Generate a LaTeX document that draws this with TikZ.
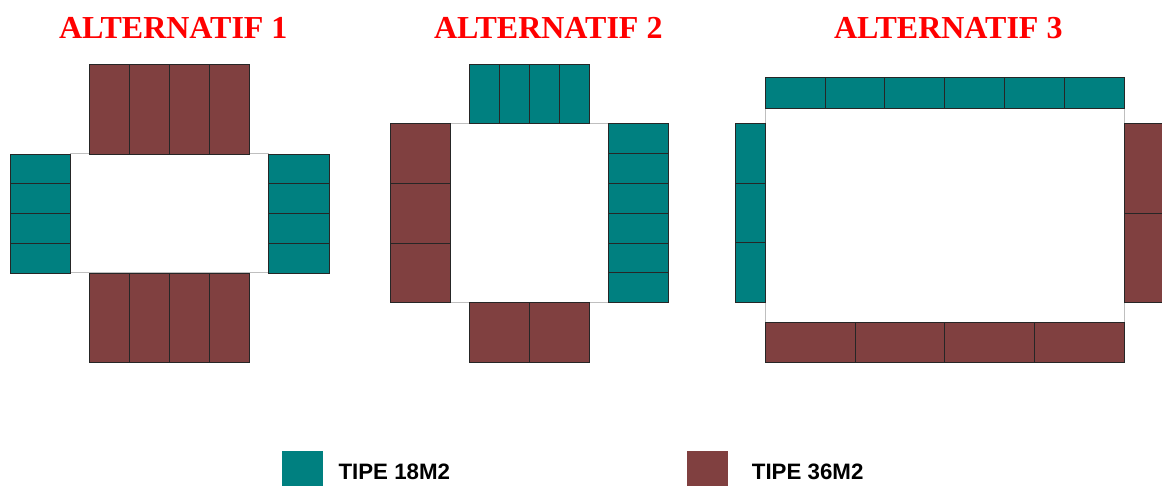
\documentclass[tikz,border=0pt]{standalone}
\usepackage{fontspec}
\setmainfont{Liberation Serif}
\newfontfamily\legendfont{Liberation Sans}
\definecolor{tealc}{RGB}{0,128,128}
\definecolor{brownc}{RGB}{128,64,64}
\definecolor{titlered}{RGB}{255,0,0}
\tikzset{
  small/.style={fill=tealc,draw=black!85,line width=0.8pt},
  big/.style={fill=brownc,draw=black!85,line width=0.8pt},
  hall/.style={fill=white,draw=black!25,line width=1pt},
  title/.style={text=titlered,font=\bfseries\fontsize{32}{36}\selectfont,anchor=base,inner sep=0pt},
  legendtext/.style={font=\legendfont\bfseries\fontsize{22.3}{26}\selectfont,anchor=base west,inner sep=0pt}
}
\newcommand{\cellstrip}[7]{%
  \pgfmathsetmacro{\cdx}{(#4-#2)/#6}%
  \pgfmathsetmacro{\cdy}{(#5-#3)/#7}%
  \foreach \ci in {1,...,#6}{\foreach \cj in {1,...,#7}{%
    \draw[#1] ({#2+(\ci-1)*\cdx},{#3+(\cj-1)*\cdy}) rectangle ({#2+\ci*\cdx},{#3+\cj*\cdy});}}%
}
\begin{document}
\begin{tikzpicture}[x=1pt,y=-1pt]
\useasboundingbox (0,0) rectangle (1162,486);
% titles
\node[title] (t1) at (173.3,39) {ALTERNATIF 1};
\node[title] (t2) at (548.3,39) {ALTERNATIF 2};
\node[title] (t3) at (948.3,39) {ALTERNATIF 3};
% Alternatif 1
\draw[hall] (70,154) rectangle (268.5,273);
\cellstrip{big}{89.5}{64}{249.5}{154}{4}{1}
\cellstrip{big}{89.5}{273}{249.5}{362.5}{4}{1}
\cellstrip{small}{10}{154}{70}{273}{1}{4}
\cellstrip{small}{268.5}{154}{329}{273}{1}{4}
% Alternatif 2
\draw[hall] (450,123.5) rectangle (608.5,302.7);
\cellstrip{small}{469.5}{64}{589.5}{123.5}{4}{1}
\cellstrip{big}{390}{123.5}{450}{302.7}{1}{3}
\cellstrip{small}{608.5}{123.5}{668.5}{302.7}{1}{6}
\cellstrip{big}{469.5}{302.7}{589.5}{362.5}{2}{1}
% Alternatif 3
\draw[hall] (765.3,108) rectangle (1124,322.7);
\cellstrip{small}{765.3}{77.3}{1124}{108}{6}{1}
\cellstrip{small}{735.3}{123.3}{765.3}{302.7}{1}{3}
\cellstrip{big}{1124}{123.3}{1166}{302.7}{1}{2}
\cellstrip{big}{765.3}{322.7}{1124}{362.3}{4}{1}
% legend
\fill[tealc] (281.7,451) rectangle (323.3,490);
\node[legendtext] (l1) at (338.3,479.3) {TIPE 18M2};
\fill[brownc] (686.7,451) rectangle (728.3,490);
\node[legendtext] (l2) at (751.7,479.3) {TIPE 36M2};
\end{tikzpicture}
\end{document}
